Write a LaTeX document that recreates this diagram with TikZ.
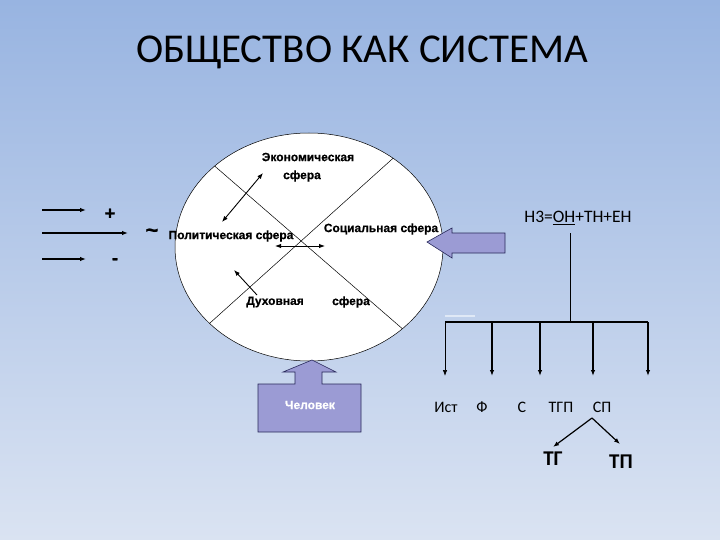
\documentclass[tikz,border=0pt]{standalone}
\usepackage{fontspec}
\setmainfont{Carlito}
\newfontfamily\arialb[BoldFeatures={FakeBold=0.6}]{Liberation Sans}
\usetikzlibrary{arrows.meta,shapes.geometric}
\definecolor{bgtop}{RGB}{152,180,225}
\definecolor{bgbot}{RGB}{218,227,242}
\definecolor{lav}{RGB}{155,155,212}
\definecolor{navy}{RGB}{40,40,90}
\tikzset{
  sphere/.style={font=\arialb\bfseries\fontsize{12}{13}\selectfont, inner sep=0pt},
  lbl/.style={font=\fontsize{16}{18}\selectfont, inner sep=0pt, anchor=base},
  conn/.style={draw=black, line width=0.9pt, -{Latex[length=6pt,width=4.5pt]}},
  dconn/.style={draw=black, line width=0.9pt, {Latex[length=6pt,width=4.5pt]}-{Latex[length=6pt,width=4.5pt]}},
}
\begin{document}
\begin{tikzpicture}[x=1pt,y=-1pt]
\shade[top color=bgtop, bottom color=bgbot] (0,0) rectangle (720,540);
\useasboundingbox (0,0) rectangle (720,540);

% title
\node[font=\fontsize{41}{44}\selectfont, inner sep=0pt] (title) at (362,52) {ОБЩЕСТВО КАК СИСТЕМА};

% ellipse
\node[draw=black, line width=0.5pt, fill=white, ellipse, minimum width=268pt, minimum height=228pt, inner sep=0pt] (ell) at (309,247) {};
\begin{scope}
\path[clip] (ell.center) ellipse [x radius=134pt, y radius=114pt];
\coordinate (d1a) at (150,110);
\coordinate (d1b) at (450,370);
\coordinate (d2a) at (450,107);
\coordinate (d2b) at (150,377);
\draw[line width=0.5pt] (d1a) -- (d1b);
\draw[line width=0.5pt] (d2a) -- (d2b);
\end{scope}

% sphere labels
\node[sphere] (eco1) at (308,157) {Экономическая};
\node[sphere] (eco2) at (302,176) {сфера};
\node[sphere] (pol) at (231,236) {Политическая сфера};
\node[sphere] (soc) at (381,229) {Социальная сфера};
\node[sphere] (duh) at (275,302) {Духовная};
\node[sphere] (duh2) at (351,302) {сфера};

% inner arrows
\coordinate (a1) at (263,173);
\coordinate (a2) at (222,222);
\coordinate (b1) at (275,246);
\coordinate (b2) at (325,246);
\coordinate (c1) at (257,295);
\coordinate (c2) at (234,270);
\draw[dconn] (a1) -- (a2);
\draw[dconn] (b1) -- (b2);
\draw[conn] (c1) -- (c2);

% left arrows
\coordinate (l1s) at (42,210); \coordinate (l1e) at (86,210);
\coordinate (l2s) at (42,233); \coordinate (l2e) at (128,233);
\coordinate (l3s) at (42,259); \coordinate (l3e) at (86,259);
\draw[conn, line width=1.1pt] (l1s) -- (l1e);
\draw[conn, line width=1.1pt] (l2s) -- (l2e);
\draw[conn, line width=1.1pt] (l3s) -- (l3e);
\node[font=\arialb\bfseries\fontsize{18}{19}\selectfont, inner sep=0pt] (plus) at (110,214) {+};
\node[font=\arialb\bfseries\fontsize{18}{19}\selectfont, inner sep=0pt] (minus) at (115,261) {-};
\node[font=\arialb\bfseries\fontsize{22}{23}\selectfont, inner sep=0pt] (tilde) at (152,233) {\textasciitilde};

% big left arrow into ellipse
\draw[fill=lav, draw=navy, line width=0.6pt] (427,242) -- (452,228) -- (452,233) -- (505,233) -- (505,253) -- (452,253) -- (452,258) -- cycle;

% human block
\draw[fill=lav, draw=navy, line width=0.6pt] (312,360) -- (336,372) -- (322,372) -- (322,384) -- (361,384) -- (361,432) -- (258,432) -- (258,384) -- (295,384) -- (295,372) -- (283,372) -- cycle;
\node[sphere, text=white] (man) at (310,405) {Человек};

% formula
\node[inner sep=0pt, font=\fontsize{17.5}{19}\selectfont] (form) at (578,218) {Н3=\underline{ОН}+ТН+ЕН};
\coordinate (vtop) at (570,233);
\coordinate (vbot) at (570,322);
\draw[line width=0.9pt] (vtop) -- (vbot);
\coordinate (h1) at (445,322);
\coordinate (h2) at (492,322);
\coordinate (h3) at (540,322);
\coordinate (h4) at (593,322);
\coordinate (h5) at (648,322);
\draw[line width=1.2pt] (h1) -- (h5);
\draw[white!70!bgtop, line width=1.2pt] (445,316) -- (475,316);
\draw[conn, line width=0.7pt] (h1) -- (445,376);
\draw[conn, line width=1.4pt] (h2) -- (492,376);
\draw[conn, line width=1.4pt] (h3) -- (540,376);
\draw[conn, line width=1.4pt] (h4) -- (593,376);
\draw[conn, line width=1.4pt] (h5) -- (648,376);

\node[lbl] (ist) at (446,412) {Ист};
\node[lbl] (f) at (482,412) {Ф};
\node[lbl] (s) at (522,412) {С};
\node[lbl] (tgp) at (561,412) {ТГП};
\node[lbl] (sp) at (602,412) {СП};
\node[lbl, font=\bfseries\fontsize{21}{23}\selectfont] (tg) at (553,465) {ТГ};
\node[lbl, font=\bfseries\fontsize{21}{23}\selectfont] (tp) at (621,468) {ТП};
\coordinate (spo) at (592,418);
\coordinate (tge) at (553,447);
\coordinate (tpe) at (620,444);
\draw[conn, line width=1.2pt] (spo) -- (tge);
\draw[conn, line width=1.2pt] (spo) -- (tpe);
\end{tikzpicture}
\end{document}
